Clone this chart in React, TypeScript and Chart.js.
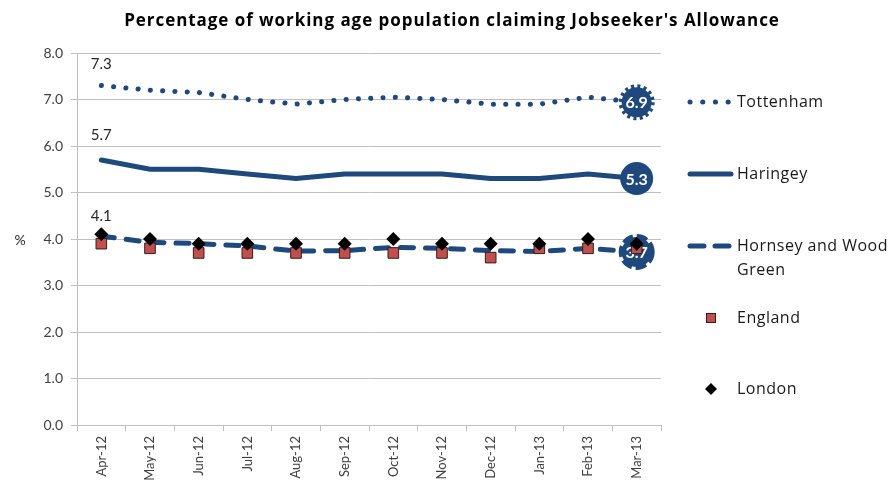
import React, { useEffect, useRef } from "react";
import { Chart, registerables } from "chart.js";

Chart.register(...registerables);

const categories = ["Apr-12", "May-12", "Jun-12", "Jul-12", "Aug-12", "Sep-12", "Oct-12", "Nov-12", "Dec-12", "Jan-13", "Feb-13", "Mar-13"];
const tottenham = [7.3, 7.2, 7.15, 7.0, 6.9, 7.0, 7.05, 7.0, 6.9, 6.9, 7.05, 6.94];
const haringey = [5.7, 5.5, 5.5, 5.4, 5.3, 5.4, 5.4, 5.4, 5.3, 5.3, 5.4, 5.3];
const hornseyWoodGreen = [4.06, 3.93, 3.9, 3.85, 3.74, 3.75, 3.82, 3.8, 3.75, 3.73, 3.8, 3.72];
const england = [3.9, 3.8, 3.7, 3.7, 3.7, 3.7, 3.7, 3.7, 3.6, 3.8, 3.8, 3.8];
const london = [4.1, 4.0, 3.9, 3.9, 3.9, 3.9, 4.0, 3.9, 3.9, 3.9, 4.0, 3.9];
const yTicks = [0, 1, 2, 3, 4, 5, 6, 7, 8];

const TITLE = "Percentage of working age population claiming Jobseeker's Allowance";
const BLUE = "#1F497D";
const RED = "#C0504D";
const FONT = "Lato, 'Open Sans', sans-serif";
const WIDE = "'Open Sans', Lato, sans-serif";
const GRID = "#BFBFBF";

const decorPlugin = {
  id: "decor",
  afterDatasetDraw(chart: any, args: any) {
    const ds = chart.data.datasets[args.index];
    if (!ds.circleLabel) return;
    const ctx = chart.ctx;
    const meta = args.meta;
    const n = meta.data.length;
    const pt = meta.data[n - 1];
    const val = ds.data[n - 1];
    ctx.save();
    ctx.fillStyle = BLUE;
    ctx.strokeStyle = BLUE;
    if (ds.circleLabel === "solid") {
      ctx.beginPath();
      ctx.arc(pt.x, pt.y, 16.5, 0, Math.PI * 2);
      ctx.fill();
    } else {
      ctx.beginPath();
      ctx.arc(pt.x, pt.y, 15, 0, Math.PI * 2);
      ctx.fill();
      ctx.lineWidth = 4;
      if (ds.circleLabel === "dot") ctx.setLineDash([3, 3.3]);
      else ctx.setLineDash([11, 4]);
      ctx.beginPath();
      ctx.arc(pt.x, pt.y, 16, 0, Math.PI * 2);
      ctx.stroke();
      ctx.setLineDash([]);
    }
    ctx.fillStyle = "#FFFFFF";
    ctx.font = `bold 16px ${FONT}`;
    ctx.textAlign = "center";
    ctx.textBaseline = "middle";
    ctx.fillText(Number(val).toFixed(1), pt.x, pt.y + 1);
    ctx.restore();
  },
  afterDatasetsDraw(chart: any) {
    const ctx = chart.ctx;
    ctx.save();
    ctx.fillStyle = "#262626";
    ctx.font = `15px ${FONT}`;
    ctx.textAlign = "center";
    ctx.textBaseline = "alphabetic";
    const firsts: [number, number][] = [
      [2, 17],
      [3, 20],
      [0, 13],
    ];
    for (const [di, off] of firsts) {
      const meta = chart.getDatasetMeta(di);
      const pt = meta.data[0];
      const val = chart.data.datasets[di].data[0];
      ctx.fillText(Number(val).toFixed(1), pt.x, pt.y - off);
    }
    ctx.restore();
  },
  afterDraw(chart: any) {
    const ctx = chart.ctx;
    ctx.save();
    // title
    ctx.fillStyle = "#000000";
    ctx.font = `bold 17px ${WIDE}`;
    (ctx as any).letterSpacing = "0.95px";
    ctx.textAlign = "center";
    ctx.textBaseline = "middle";
    ctx.fillText(TITLE, 452, 21);
    (ctx as any).letterSpacing = "0px";
    // y axis title
    ctx.font = `14px ${FONT}`;
    ctx.fillStyle = "#262626";
    ctx.fillText("%", 20, 240);
    // legend
    ctx.font = `16px ${WIDE}`;
    (ctx as any).letterSpacing = "0.5px";
    ctx.textAlign = "left";
    const tx = 737;
    const drawLine = (y: number, dash: number[]) => {
      ctx.strokeStyle = BLUE;
      ctx.lineWidth = 5;
      ctx.lineCap = "round";
      ctx.setLineDash(dash);
      ctx.beginPath();
      ctx.moveTo(690, y);
      ctx.lineTo(731, y);
      ctx.stroke();
      ctx.setLineDash([]);
    };
    drawLine(102, [0.1, 12.6]);
    drawLine(174, []);
    drawLine(246, [14, 11]);
    ctx.fillStyle = "#1A1A1A";
    ctx.fillText("Tottenham", tx, 102);
    ctx.fillText("Haringey", tx, 174);
    ctx.fillText("Hornsey and Wood", tx, 246);
    ctx.fillText("Green", tx, 270);
    ctx.fillText("England", tx, 318);
    ctx.fillText("London", tx, 389);
    (ctx as any).letterSpacing = "0px";
    // England square
    ctx.fillStyle = RED;
    ctx.strokeStyle = "#3A1A19";
    ctx.lineWidth = 1;
    ctx.fillRect(706, 313, 10, 10);
    ctx.strokeRect(706.5, 313.5, 9, 9);
    // London diamond
    ctx.fillStyle = "#000000";
    ctx.beginPath();
    ctx.moveTo(711, 383);
    ctx.lineTo(717, 389);
    ctx.lineTo(711, 395);
    ctx.lineTo(705, 389);
    ctx.closePath();
    ctx.fill();
    ctx.restore();
  },
};

export default function App() {
  const ref = useRef<HTMLCanvasElement>(null);
  useEffect(() => {
    document.body.style.margin = "0";
    const chart = new Chart(ref.current!, {
      type: "line",
      data: {
        labels: categories,
        datasets: [
          {
            label: "London",
            data: london,
            showLine: false,
            pointStyle: "rectRot",
            pointRadius: 7,
            backgroundColor: "#000000",
            borderColor: "#000000",
            borderWidth: 0,
            order: 0,
          } as any,
          {
            label: "England",
            data: england,
            showLine: false,
            pointStyle: "rect",
            pointRadius: 7.5,
            backgroundColor: RED,
            borderColor: "#3A1A19",
            borderWidth: 1,
            order: 1,
          } as any,
          {
            label: "Tottenham",
            data: tottenham,
            borderColor: BLUE,
            borderWidth: 5,
            borderCapStyle: "round",
            borderDash: [0.1, 12.2],
            pointRadius: 0,
            tension: 0,
            order: 2,
            circleLabel: "dot",
          } as any,
          {
            label: "Haringey",
            data: haringey,
            borderColor: BLUE,
            borderWidth: 5,
            borderCapStyle: "round",
            pointRadius: 0,
            tension: 0,
            order: 2,
            circleLabel: "solid",
          } as any,
          {
            label: "Hornsey and Wood Green",
            data: hornseyWoodGreen,
            borderColor: BLUE,
            borderWidth: 5,
            borderCapStyle: "round",
            borderDash: [13, 12],
            pointRadius: 0,
            tension: 0,
            order: 2,
            circleLabel: "dash",
          } as any,
        ],
      },
      options: {
        animation: false,
        responsive: false,
        devicePixelRatio: 1,
        layout: { padding: { top: 53, right: 227, left: 0, bottom: 0 } },
        plugins: {
          legend: { display: false },
          title: { display: false },
          tooltip: { enabled: false },
        },
        scales: {
          x: {
            type: "category",
            offset: true,
            grid: { offset: true, drawOnChartArea: false, tickLength: 6, color: GRID },
            border: { color: GRID },
            ticks: {
              color: "#404040",
              font: { family: FONT, size: 13 },
              minRotation: 90,
              maxRotation: 90,
              padding: 5,
              autoSkip: false,
            },
            afterFit(scale: any) {
              scale.height = 57;
            },
          },
          y: {
            min: 0,
            max: 8,
            afterBuildTicks(scale: any) {
              scale.ticks = yTicks.map((v) => ({ value: v }));
            },
            grid: { color: GRID, tickLength: 6 },
            border: { color: GRID },
            ticks: {
              color: "#404040",
              font: { family: FONT, size: 14 },
              padding: 8,
              callback: (v: any) => Number(v).toFixed(1),
            },
            afterFit(scale: any) {
              scale.width = 77;
            },
          },
        },
      },
      plugins: [decorPlugin],
    });
    return () => chart.destroy();
  }, []);
  return (
    <div style={{ position: "fixed", left: 0, top: 0, width: 888, height: 482, background: "#fff" }}>
      <canvas ref={ref} width={888} height={482} style={{ width: 888, height: 482 }} />
    </div>
  );
}
